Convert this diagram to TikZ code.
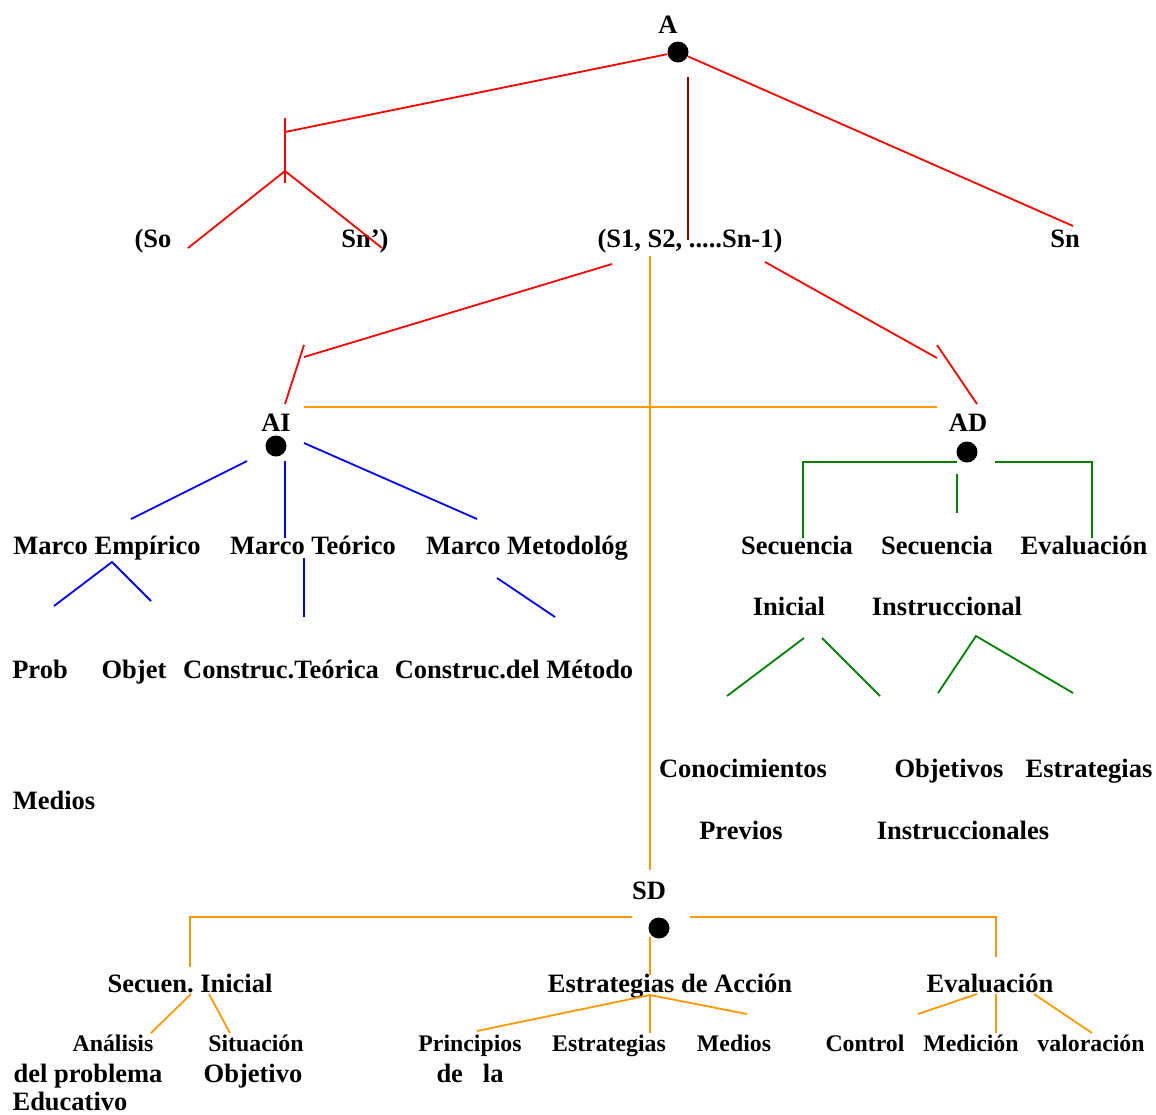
\documentclass[tikz,border=0pt]{standalone}
\usepackage{fontspec}
\setmainfont{Liberation Serif}
\frenchspacing
\definecolor{lnred}{RGB}{255,0,0}
\definecolor{lnmaroon}{RGB}{128,0,0}
\definecolor{lnorange}{RGB}{255,153,0}
\definecolor{lnblue}{RGB}{0,0,255}
\definecolor{lngreen}{RGB}{0,128,0}
\begin{document}
\begin{tikzpicture}[x=1pt,y=-1pt,
  lbl/.style={anchor=base,inner sep=0pt,font=\fontsize{26.5}{30}\selectfont\bfseries},
  sml/.style={anchor=base,inner sep=0pt,font=\fontsize{23.8}{28}\selectfont\bfseries},
  blob/.style={circle,fill=black,inner sep=0pt,minimum size=21pt},
  wire/.style={line width=1.8pt},
  redw/.style={wire,lnred},
  maroonw/.style={wire,lnmaroon},
  orangew/.style={wire,lnorange},
  bluew/.style={wire,lnblue},
  greenw/.style={wire,lngreen}]
\useasboundingbox (0,0) rectangle (1156,1114);

% ---------- labels ----------
\node[lbl] (tA)   at (668,33)  {A};
\node[lbl] (tSo)  at (153,247) {(So};
\node[lbl] (tSnp) at (365,247) {Sn’)};
\node[lbl] (tS1)  at (690,247) {(S1, S2, .....Sn-1)};
\node[lbl] (tSn)  at (1065,247) {Sn};

\node[lbl] (tAI) at (276,431) {AI};
\node[lbl] (tAD) at (968,431) {AD};

\node[lbl] (tME) at (107,554) {Marco Empírico};
\node[lbl] (tMT) at (313,554) {Marco Teórico};
\node[lbl] (tMM) at (527,554) {Marco Metodológ};
\node[lbl] (tProb) at (40,678) {Prob};
\node[lbl] (tObj)  at (134,678) {Objet};
\node[lbl] (tCT)   at (281,678) {Construc.Teórica};
\node[lbl] (tCM)   at (514,678) {Construc.del Método};
\node[lbl] (tMed)  at (54,809) {Medios};

\node[lbl] (tSec1) at (797,554) {Secuencia};
\node[lbl] (tSec2) at (937,554) {Secuencia};
\node[lbl] (tEv1)  at (1084,554) {Evaluación};
\node[lbl] (tIni)  at (789,615) {Inicial};
\node[lbl] (tIns)  at (947,615) {Instruccional};
\node[lbl] (tCon)  at (743,777) {Conocimientos};
\node[lbl] (tPrev) at (741,839) {Previos};
\node[lbl] (tObjv) at (949,777) {Objetivos};
\node[lbl] (tEstr) at (1089,777) {Estrategias};
\node[lbl] (tInsl) at (963,839) {Instruccionales};

\node[lbl] (tSD)  at (649,899) {SD};
\node[lbl] (tSI)  at (190,992) {Secuen. Inicial};
\node[lbl] (tEA)  at (670,992) {Estrategias de Acción};
\node[lbl] (tEv2) at (990,992) {Evaluación};

\node[sml] (tAna) at (113,1051) {Análisis};
\node[sml] (tSit) at (256,1051) {Situación};
\node[sml] (tPri) at (470,1051) {Principios};
\node[sml] (tEs2) at (609,1051) {Estrategias};
\node[sml] (tMe2) at (734,1051) {Medios};
\node[sml] (tCtl) at (865,1051) {Control};
\node[sml] (tMdc) at (971,1051) {Medición};
\node[sml] (tVal) at (1091,1051) {valoración};
\node[lbl] (tDel) at (88,1082)  {del problema};
\node[lbl] (tObo) at (253,1082) {Objetivo};
\node[lbl] (tDe)  at (470,1082) {de\ \ \ la};
\node[lbl] (tEdu) at (70,1110)  {Educativo};

% ---------- dots ----------
\node[blob] (dA)  at (678,52)  {};
\node[blob] (dAI) at (276,446) {};
\node[blob] (dAD) at (967,452) {};
\node[blob] (dSD) at (659,928) {};

% ---------- top level (red) ----------
\coordinate (bkJoin) at (285,132);
\coordinate (bkTop)  at (285,118);
\coordinate (bkBot)  at (285,183);
\coordinate (bkFork) at (285,171);
\coordinate (bkL)    at (188,248);
\coordinate (bkR)    at (382,248);
\coordinate (snEnd)  at (1073,226);
\draw[redw] (dA) -- (bkJoin);
\draw[redw] (bkTop) -- (bkBot);
\draw[redw] (bkL) -- (bkFork) -- (bkR);
\draw[redw] (dA) -- (snEnd);
\coordinate (midTop) at (688,77);
\coordinate (midBot) at (688,240);
\draw[maroonw] (midTop) -- (midBot);

% ---------- second level ----------
\coordinate (sLft) at (612,264);
\coordinate (aiJ)  at (304,357);
\coordinate (aiT)  at (304,345);
\coordinate (aiB)  at (285,404);
\coordinate (sRgt) at (765,262);
\coordinate (adJ)  at (937,358);
\coordinate (adT)  at (937,345);
\coordinate (adB)  at (977,404);
\draw[redw] (sLft) -- (aiJ);
\draw[redw] (aiT) -- (aiB);
\draw[redw] (sRgt) -- (adJ);
\draw[redw] (adT) -- (adB);

\coordinate (spTop) at (650,256);
\coordinate (spBot) at (650,870);
\coordinate (hzL)   at (304,407);
\coordinate (hzR)   at (937,407);
\draw[orangew] (spTop) -- (spBot);
\draw[orangew] (hzL) -- (hzR);

% ---------- AI branch (blue) ----------
\coordinate (b1a) at (247,461); \coordinate (b1b) at (131,519);
\coordinate (b2a) at (285,461); \coordinate (b2b) at (285,538);
\coordinate (b3a) at (304,443); \coordinate (b3b) at (477,519);
\coordinate (meL) at (54,606);  \coordinate (meA) at (112,562); \coordinate (meR) at (151,601);
\coordinate (mtA) at (304,558); \coordinate (mtB) at (304,617);
\coordinate (mmA) at (497,578); \coordinate (mmB) at (555,617);
\draw[bluew] (b1a) -- (b1b);
\draw[bluew] (b2a) -- (b2b);
\draw[bluew] (b3a) -- (b3b);
\draw[bluew] (meL) -- (meA) -- (meR);
\draw[bluew] (mtA) -- (mtB);
\draw[bluew] (mmA) -- (mmB);

% ---------- AD branch (green) ----------
\coordinate (g1a) at (957,462); \coordinate (g1b) at (803,462); \coordinate (g1c) at (803,538);
\coordinate (g2a) at (957,474); \coordinate (g2b) at (957,513);
\coordinate (g3a) at (995,462); \coordinate (g3b) at (1092,462); \coordinate (g3c) at (1092,538);
\coordinate (siL) at (727,696); \coordinate (siA) at (804,638);
\coordinate (siB) at (822,638); \coordinate (siR) at (880,696);
\coordinate (inL) at (938,693); \coordinate (inA) at (976,636); \coordinate (inR) at (1073,693);
\draw[greenw] (g1a) -- (g1b) -- (g1c);
\draw[greenw] (g2a) -- (g2b);
\draw[greenw] (g3a) -- (g3b) -- (g3c);
\draw[greenw] (siL) -- (siA);
\draw[greenw] (siB) -- (siR);
\draw[greenw] (inL) -- (inA) -- (inR);

% ---------- SD branch (orange) ----------
\coordinate (o1a) at (632,917); \coordinate (o1b) at (190,917); \coordinate (o1c) at (190,967);
\coordinate (o2a) at (690,917); \coordinate (o2b) at (996,917); \coordinate (o2c) at (996,957);
\coordinate (o3a) at (650,937); \coordinate (o3b) at (650,975);
\coordinate (eaA) at (650,995);
\coordinate (eaL) at (477,1031); \coordinate (eaM) at (650,1033); \coordinate (eaR) at (747,1014);
\coordinate (evL1) at (977,994); \coordinate (evL2) at (918,1014);
\coordinate (evM1) at (996,994); \coordinate (evM2) at (996,1033);
\coordinate (evR1) at (1034,994); \coordinate (evR2) at (1092,1033);
\coordinate (siL1) at (191,994); \coordinate (siL2) at (151,1033);
\coordinate (siR1) at (209,994); \coordinate (siR2) at (230,1033);
\draw[orangew] (o1a) -- (o1b) -- (o1c);
\draw[orangew] (o2a) -- (o2b) -- (o2c);
\draw[orangew] (o3a) -- (o3b);
\draw[orangew] (eaL) -- (eaA) -- (eaR);
\draw[orangew] (eaA) -- (eaM);
\draw[orangew] (evL1) -- (evL2);
\draw[orangew] (evM1) -- (evM2);
\draw[orangew] (evR1) -- (evR2);
\draw[orangew] (siL1) -- (siL2);
\draw[orangew] (siR1) -- (siR2);
\end{tikzpicture}
\end{document}
